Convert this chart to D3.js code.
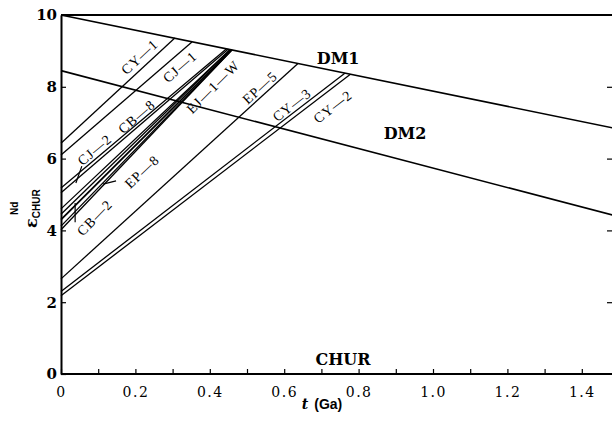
<!DOCTYPE html>
<html><head><meta charset="utf-8">
<script src="https://cdn.jsdelivr.net/npm/d3@7"></script>
<style>body{margin:0;background:#fff} svg{display:block}</style>
</head><body>
<svg id="c" width="612" height="424"></svg>
<script>
// ---- data ----
const xTicks = [0,0.1,0.2,0.3,0.4,0.5,0.6,0.7,0.8,0.9,1.0,1.1,1.2,1.3,1.4];
const xTickLabels = ["0","","0.2","","0.4","","0.6","","0.8","","1.0","","1.2","","1.4"];
const yTicks = [0,2,4,6,8,10];
const yTickLabels = ["0","2","4","6","8","10"];

const mantleNames = ["DM1","DM2"];
const mantleStartEps = [10.0, 8.45];
const mantleEndT = [1.5, 1.5];
const mantleEndEps = [6.82, 4.38];

const sampleNames    = ["CY-1","CJ-1","CJ-2","CB-8","EP-8a","EP-8b","EJ-1-W","CB-2a","CB-2b","EP-5","CY-3","CY-2"];
const sampleStartEps = [6.43, 6.10, 5.18, 5.05, 4.60, 4.45, 4.30, 4.12, 4.02, 2.65, 2.30, 2.18];
const sampleEndT     = [0.306,0.352,0.445,0.450,0.455,0.455,0.458,0.460,0.460,0.637,0.763,0.778];
const sampleEndEps   = [9.36, 9.25, 9.06, 9.05, 9.04, 9.04, 9.03, 9.03, 9.03, 8.65, 8.38, 8.35];

const labelText = ["CY—1","CJ—1","CJ—2","CB—8","EP—8","EJ—1—W","CB—2","EP—5","CY—3","CY—2"];
const labelLine = [0,1,2,3,4,6,7,9,10,11];
const labelT    = [0.212,0.320,0.091,0.204,0.218,0.409,0.091,0.535,0.621,0.731];
const labelEps  = [8.83, 8.55, 6.24, 7.16, 5.63, 7.99, 4.35, 7.97, 7.49, 7.44];

const mantleLabelT = [0.745, 0.925];
const mantleLabelEps = [8.80, 6.69];
const churLabel = "CHUR";
const churT = 0.758, churEps = 0.39;

const leaderT0 = [0.056, 0.113, 0.038];
const leaderE0 = [5.79, 5.29, 4.76];
const leaderT1 = [0.040, 0.148, 0.038];
const leaderE1 = [5.32, 5.38, 4.23];

// ---- chart ----
const svg = d3.select("#c");
const x = d3.scaleLinear().domain([0,1.5]).range([61, 619]);
const y = d3.scaleLinear().domain([0,10]).range([374, 15]);
const serif = "'DejaVu Serif', 'Liberation Serif', serif";
const times = "'Liberation Serif', 'Times New Roman', serif";

// frame: top line
svg.append("line").attr("x1", x(0)).attr("x2", 612).attr("y1", y(10)).attr("y2", y(10))
  .attr("stroke","#000").attr("stroke-width",1.8);

// bottom axis
const xAxis = d3.axisBottom(x).tickValues(xTicks)
  .tickFormat((d,i)=>xTickLabels[i]).tickSizeInner(-5).tickSizeOuter(0).tickPadding(13);
const gx = svg.append("g").attr("transform",`translate(0,${y(0)})`).call(xAxis);
gx.select(".domain").attr("d", `M${x(0)},0H612`).attr("stroke-width",2);
gx.selectAll(".tick line").attr("stroke-width",1.2);
gx.selectAll("text").attr("font-family",serif).attr("font-size",14).attr("letter-spacing",1.5)
  .attr("fill","#000");

// left axis
const yAxis = d3.axisLeft(y).tickValues(yTicks).tickFormat((d,i)=>yTickLabels[i])
  .tickSizeInner(-5).tickSizeOuter(0).tickPadding(4);
const gy = svg.append("g").attr("transform",`translate(${x(0)},0)`).call(yAxis);
gy.select(".domain").attr("stroke-width",2);
gy.selectAll(".tick line").attr("stroke-width",1.2);
gy.selectAll("text").attr("font-family",serif).attr("font-weight","bold").attr("font-size",15)
  .attr("fill","#000");

// right axis (ticks only visible)
const yAxisR = d3.axisRight(y).tickValues([2,4,6,8]).tickFormat("").tickSizeInner(-6).tickSizeOuter(0);
const gr = svg.append("g").attr("transform",`translate(613,0)`).call(yAxisR);
gr.selectAll(".tick line").attr("stroke-width",1.2);

// mantle lines
mantleNames.forEach((n,i)=>{
  svg.append("line").attr("x1",x(0)).attr("y1",y(mantleStartEps[i]))
    .attr("x2",x(mantleEndT[i])).attr("y2",y(mantleEndEps[i]))
    .attr("stroke","#000").attr("stroke-width",1.6);
  svg.append("text").attr("x",x(mantleLabelT[i])).attr("y",y(mantleLabelEps[i]))
    .attr("text-anchor","middle").attr("dominant-baseline","central")
    .attr("font-family",serif).attr("font-weight","bold").attr("font-size",16).text(n);
});

// sample lines
sampleNames.forEach((n,i)=>{
  svg.append("line").attr("x1",x(0)).attr("y1",y(sampleStartEps[i]))
    .attr("x2",x(sampleEndT[i])).attr("y2",y(sampleEndEps[i]))
    .attr("stroke","#000").attr("stroke-width", n==="EJ-1-W" ? 1.8 : 1.3);
});

// leaders
leaderT0.forEach((t,i)=>{
  svg.append("line").attr("x1",x(t)).attr("y1",y(leaderE0[i]))
    .attr("x2",x(leaderT1[i])).attr("y2",y(leaderE1[i]))
    .attr("stroke","#000").attr("stroke-width",1.2);
});

// sample labels
labelText.forEach((s,i)=>{
  const k = labelLine[i];
  const dx = x(sampleEndT[k]) - x(0), dy = y(sampleEndEps[k]) - y(sampleStartEps[k]);
  const ang = Math.atan2(dy, dx) * 180 / Math.PI;
  svg.append("text")
    .attr("transform",`translate(${x(labelT[i])},${y(labelEps[i])}) rotate(${ang})`)
    .attr("text-anchor","middle").attr("dominant-baseline","central")
    .attr("font-family",times).attr("font-size",14).attr("letter-spacing",1).text(s);
});

// CHUR
svg.append("text").attr("x",x(churT)).attr("y",y(churEps)).attr("text-anchor","middle")
  .attr("dominant-baseline","central").attr("font-family",serif).attr("font-weight","bold")
  .attr("font-size",16).text(churLabel);

// x axis title
const xt = svg.append("text").attr("x",322).attr("y",409).attr("text-anchor","middle")
  .attr("font-family",serif).attr("font-weight","bold").attr("font-size",14);
xt.append("tspan").attr("font-style","italic").text("t");
xt.append("tspan").attr("dx",6).attr("font-family","'Liberation Sans', Arial, sans-serif").text("(Ga)");

// y axis title
const yt = svg.append("text").attr("transform","translate(37,228) rotate(-90)")
  .attr("font-family",serif).attr("font-weight","bold");
yt.append("tspan").attr("font-size",16).text("ε");
yt.append("tspan").attr("font-size",10).attr("dy",3).attr("font-family","'Liberation Sans', Arial, sans-serif").text("CHUR");
svg.append("text").attr("transform","translate(18,215) rotate(-90)")
  .attr("font-family","'Liberation Sans', Arial, sans-serif").attr("font-weight","bold")
  .attr("font-size",10).text("Nd");
</script>
</body></html>
